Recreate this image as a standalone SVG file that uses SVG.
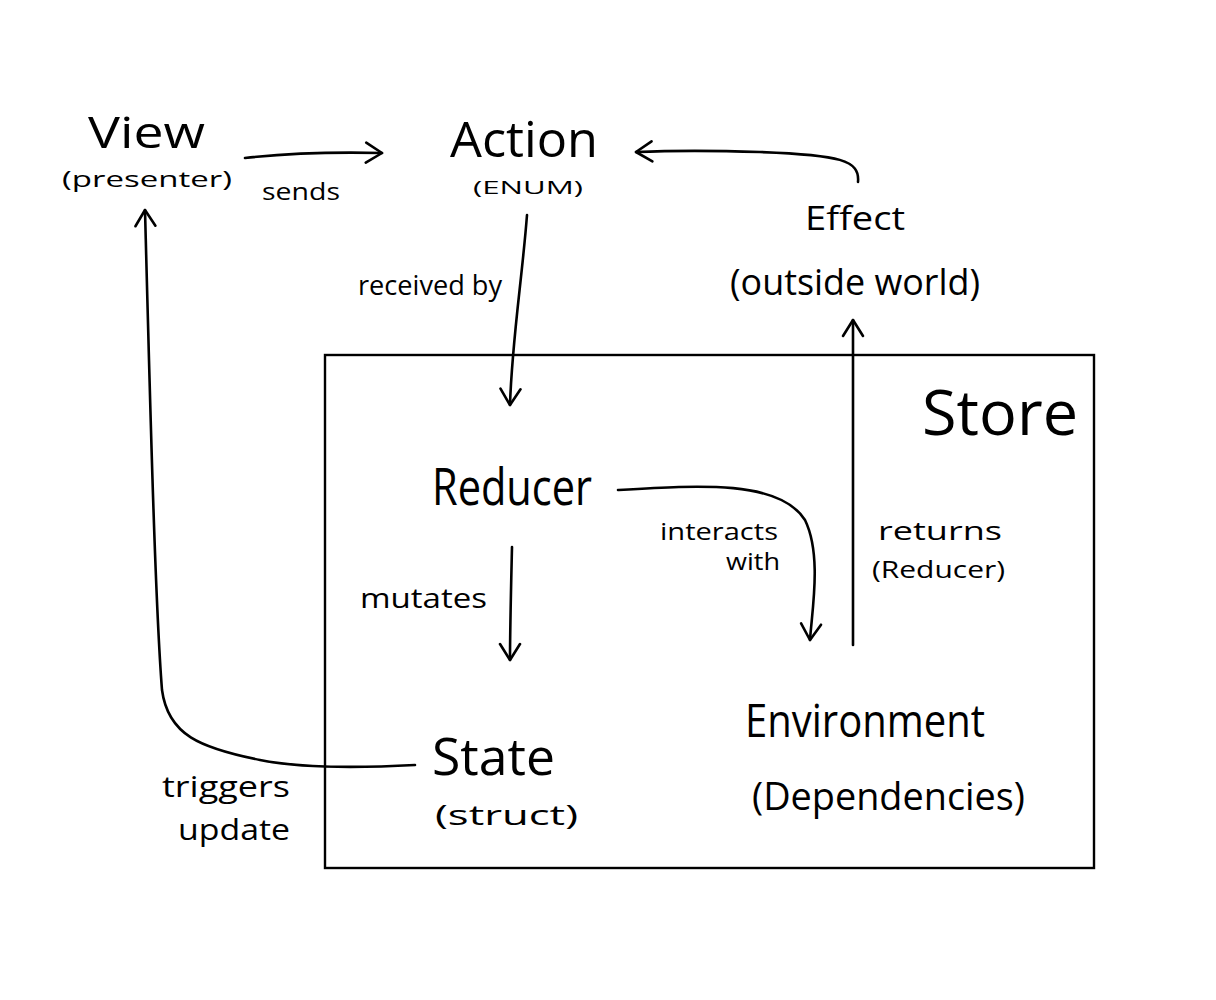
<svg xmlns="http://www.w3.org/2000/svg" width="1216" height="1000" viewBox="0 0 1216 1000">
<style>
text{font-family:"Open Sans","Liberation Sans",sans-serif;fill:#000}
.c{fill:none;stroke:#000;stroke-width:2.6;stroke-linecap:round;stroke-linejoin:round}
</style>
<defs>
<marker id="ah" viewBox="-20 -12 24 24" markerWidth="24" markerHeight="24" refX="0" refY="0" orient="auto" markerUnits="userSpaceOnUse">
<path d="M-16,-10 L0,0 L-16,10" fill="none" stroke="#000" stroke-width="2.6" stroke-linecap="round" stroke-linejoin="round"/>
</marker>
</defs>
<rect width="1216" height="1000" fill="#fff"/>
<g id="store">
<rect x="325" y="355" width="769" height="513" fill="none" stroke="#000" stroke-width="2.4"/>
<text x="922" y="435" font-size="62" textLength="156" lengthAdjust="spacingAndGlyphs">Store</text>
</g>
<g id="view">
<text x="88" y="148" font-size="44" textLength="117" lengthAdjust="spacingAndGlyphs">View</text>
<text x="62" y="187" font-size="22" textLength="170" lengthAdjust="spacingAndGlyphs">(presenter)</text>
</g>
<g id="action">
<text x="450" y="157" font-size="50" textLength="148" lengthAdjust="spacingAndGlyphs">Action</text>
<text x="473" y="194" font-size="19" textLength="110" lengthAdjust="spacingAndGlyphs">(ENUM)</text>
</g>
<g id="effect">
<text x="805" y="230" font-size="32" textLength="100" lengthAdjust="spacingAndGlyphs">Effect</text>
<text x="730" y="295" font-size="36" textLength="250" lengthAdjust="spacingAndGlyphs">(outside world)</text>
</g>
<g id="reducer">
<text x="432" y="505" font-size="52" textLength="160" lengthAdjust="spacingAndGlyphs">Reducer</text>
</g>
<g id="state">
<text x="432" y="775" font-size="52" textLength="123" lengthAdjust="spacingAndGlyphs">State</text>
<text x="435" y="825" font-size="28" textLength="143" lengthAdjust="spacingAndGlyphs">(struct)</text>
</g>
<g id="environment">
<text x="745" y="737" font-size="46" textLength="240" lengthAdjust="spacingAndGlyphs">Environment</text>
<text x="752" y="810" font-size="38" textLength="273" lengthAdjust="spacingAndGlyphs">(Dependencies)</text>
</g>
<g id="connectors">
<path class="c" d="M245,158 C290,153 340,152 382,153" marker-end="url(#ah)"/>
<path class="c" d="M858,182 C860,160 840,155 760,152 C700,150 660,151 636,152" marker-end="url(#ah)"/>
<path class="c" d="M853,645 L853,320" marker-end="url(#ah)"/>
<path class="c" d="M527,215 C522,280 512,340 510,405" marker-end="url(#ah)"/>
<path class="c" d="M618,490 C700,485 780,480 805,520 C822,555 812,610 810,640" marker-end="url(#ah)"/>
<path class="c" d="M512,547 C511,590 510,630 510,660" marker-end="url(#ah)"/>
<path class="c" d="M415,765 C360,768 300,768 260,760 C200,748 168,735 162,690 C155,600 150,400 145,210" marker-end="url(#ah)"/>
</g>
<g id="labels">
<text x="262" y="200" font-size="24" textLength="78" lengthAdjust="spacingAndGlyphs">sends</text>
<text x="358" y="295" font-size="28" textLength="144" lengthAdjust="spacingAndGlyphs">received by</text>
<text x="878" y="540" font-size="26" textLength="124" lengthAdjust="spacingAndGlyphs">returns</text>
<text x="872" y="578" font-size="23" textLength="133" lengthAdjust="spacingAndGlyphs">(Reducer)</text>
<text x="660" y="540" font-size="24" textLength="118" lengthAdjust="spacingAndGlyphs">interacts</text>
<text x="726" y="570" font-size="24" textLength="54" lengthAdjust="spacingAndGlyphs">with</text>
<text x="360" y="608" font-size="28" textLength="127" lengthAdjust="spacingAndGlyphs">mutates</text>
<text x="162" y="797" font-size="30" textLength="128" lengthAdjust="spacingAndGlyphs">triggers</text>
<text x="178" y="840" font-size="30" textLength="112" lengthAdjust="spacingAndGlyphs">update</text>
</g>
</svg>
